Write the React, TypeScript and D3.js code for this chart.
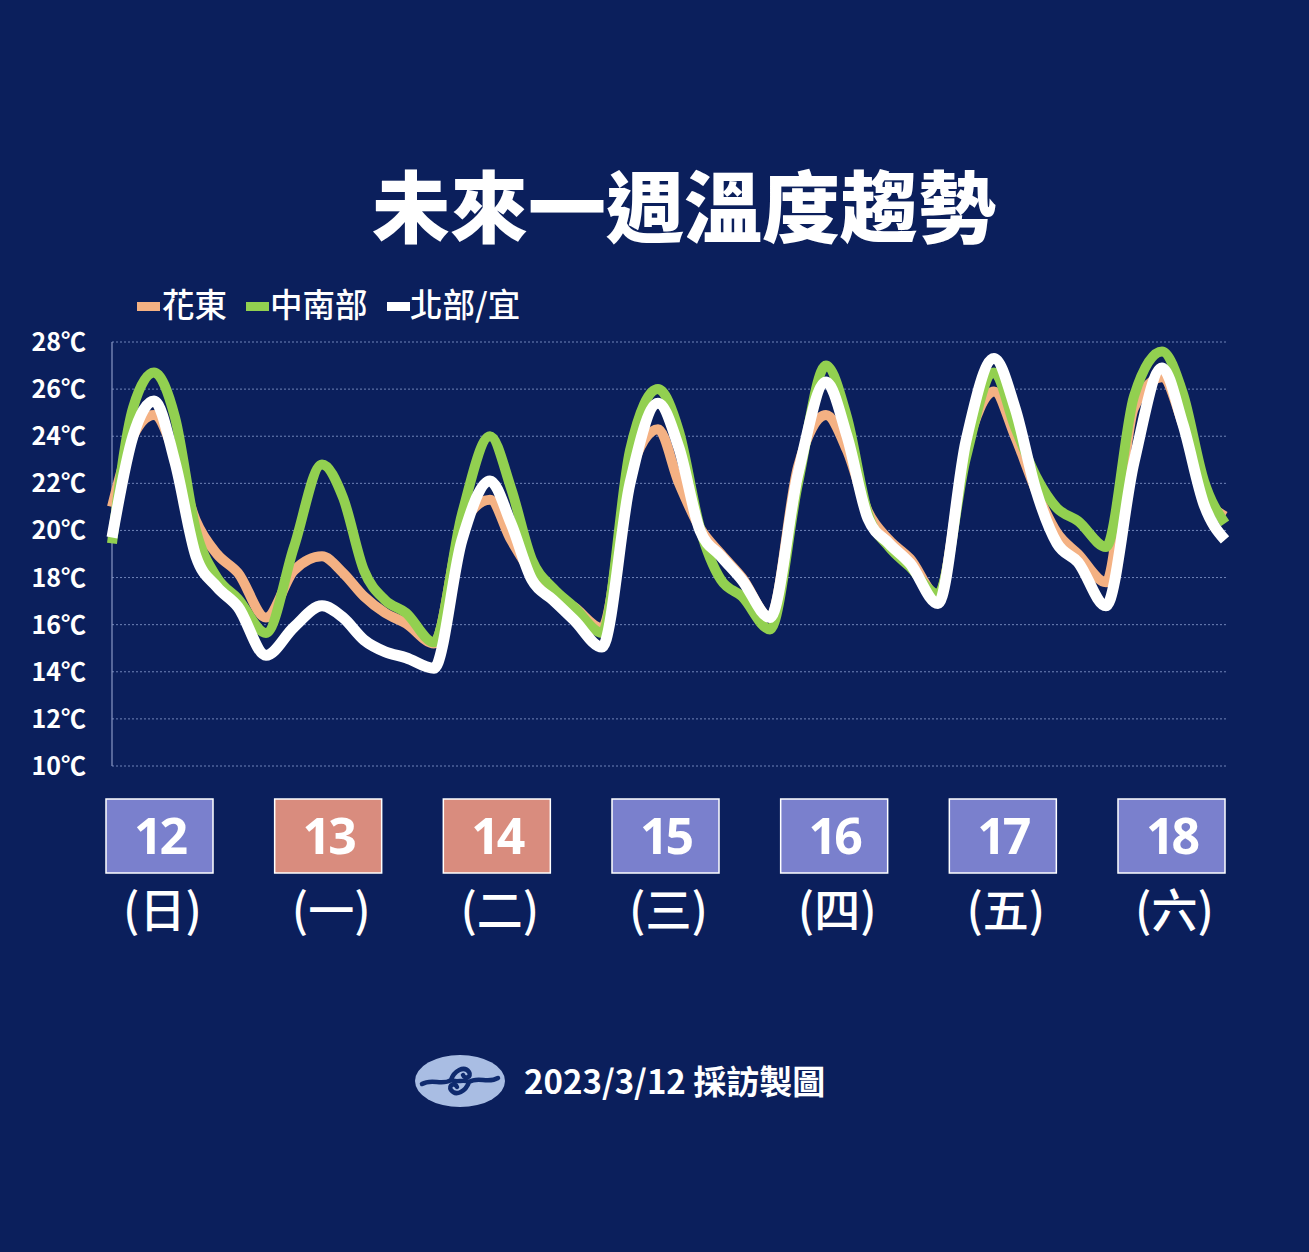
import React from "react";
import * as d3 from "d3";

// Hours since the first sample (about 08:00 on the 12th)
const hours = [0, 3, 6, 9, 12, 15, 18, 22, 26, 30, 33, 36, 39, 42, 46, 50, 54, 57, 60, 63, 66, 70, 74, 78, 81, 84, 87, 90, 94, 98, 102, 105, 108, 111, 114, 118, 122, 126, 129, 132, 135, 138, 142, 146, 150, 153, 156, 159];

const hualienTaitung = [21.0, 24.0, 24.9, 23.2, 20.4, 19.0, 18.2, 16.3, 18.3, 18.9, 18.2, 17.2, 16.5, 16.05, 15.2, 20.2, 21.3, 19.6, 18.2, 17.3, 16.75, 15.85, 22.4, 24.3, 22.0, 20.1, 19.0, 18.0, 16.3, 22.7, 24.9, 23.4, 20.8, 19.6, 18.8, 17.2, 23.4, 25.9, 24.0, 21.7, 19.9, 19.0, 17.8, 25.2, 26.5, 24.5, 21.6, 20.6];

const centralSouth = [19.45, 25.2, 26.7, 24.8, 20.0, 18.0, 17.1, 15.65, 19.3, 22.8, 21.4, 18.3, 17.05, 16.5, 15.25, 20.7, 24.0, 21.8, 18.75, 17.55, 16.75, 15.65, 23.4, 26.0, 24.2, 20.1, 17.9, 17.2, 15.8, 22.0, 27.0, 24.8, 20.7, 19.3, 18.45, 17.3, 23.1, 26.7, 24.4, 22.3, 20.95, 20.4, 19.3, 25.7, 27.6, 25.8, 22.1, 20.3];

const northYilan = [19.7, 24.0, 25.5, 22.9, 18.9, 17.6, 16.75, 14.7, 15.9, 16.8, 16.3, 15.35, 14.85, 14.6, 14.15, 19.6, 22.1, 20.3, 17.9, 17.05, 16.2, 15.05, 22.0, 25.4, 23.5, 20.0, 18.9, 17.9, 16.3, 22.4, 26.3, 24.0, 20.5, 19.45, 18.6, 16.9, 23.8, 27.3, 25.2, 21.7, 19.45, 18.65, 16.8, 22.9, 26.9, 24.5, 21.1, 19.6];

const seriesNames = ["花東", "中南部", "北部/宜"];
const seriesColors = ["#f4b183", "#92d050", "#ffffff"];
const seriesValues = [hualienTaitung, centralSouth, northYilan];

const yTicks = [10, 12, 14, 16, 18, 20, 22, 24, 26, 28];
const dayNumbers = ["12", "13", "14", "15", "16", "17", "18"];
const weekdays = ["(日)", "(一)", "(二)", "(三)", "(四)", "(五)", "(六)"];
const holidayFlags = [false, true, true, false, false, false, false];

const W = 1309;
const H = 1252;
const BG = "#0b1f5c";
const CJK = "'Noto Sans CJK TC', 'Noto Sans', sans-serif";

export default function App() {
  const x = d3.scaleLinear().domain([0, 159]).range([112, 1225]);
  const y = d3.scaleLinear().domain([10, 28]).range([766, 342]);
  const dayX = d3.scalePoint<string>().domain(dayNumbers).range([159.5, 1171.5]);

  const line = d3
    .line<number>()
    .x((_, i) => x(hours[i]))
    .y((d) => y(d))
    .curve(d3.curveMonotoneX);

  const legendItems = [
    { sx: 137, tx: 162 },
    { sx: 246, tx: 270 },
    { sx: 387, tx: 410 },
  ];

  return (
    <div style={{ position: "absolute", left: 0, top: 0, width: W, height: H }}>
      <svg width={W} height={H} style={{ display: "block" }}>
        <rect width={W} height={H} fill={BG} />

        <text
          x={684}
          y={237}
          textAnchor="middle"
          fontFamily={CJK}
          fontWeight={900}
          fontSize={78}
          fill="#ffffff"
        >
          未來一週溫度趨勢
        </text>

        {seriesNames.map((name, i) => (
          <g key={name}>
            <rect x={legendItems[i].sx} y={302} width={23} height={9} fill={seriesColors[i]} />
            <text
              x={legendItems[i].tx}
              y={317}
              fontFamily={CJK}
              fontWeight={500}
              fontSize={32.5}
              fill="#ffffff"
            >
              {name}
            </text>
          </g>
        ))}

        {/* grid */}
        {yTicks.map((t) => (
          <line
            key={t}
            x1={112}
            x2={1226}
            y1={y(t)}
            y2={y(t)}
            stroke="#7084b8"
            strokeWidth={1}
            strokeDasharray="2,2"
          />
        ))}
        <line x1={112} x2={112} y1={342} y2={766} stroke="#8a98c4" strokeWidth={1.2} />

        {yTicks.map((t) => (
          <text
            key={"l" + t}
            x={86}
            y={y(t)}
            dy="0.36em"
            textAnchor="end"
            fontFamily={CJK}
            fontWeight={700}
            fontSize={25}
            fill="#ffffff"
          >
            {t}℃
          </text>
        ))}

        {seriesValues.map((vals, i) => (
          <path
            key={seriesNames[i]}
            d={line(vals) || ""}
            fill="none"
            stroke={seriesColors[i]}
            strokeWidth={i === 2 ? 11 : 10}
            strokeLinejoin="round"
            strokeLinecap="butt"
          />
        ))}

        {dayNumbers.map((d, i) => {
          const cx = dayX(d) as number;
          return (
            <g key={d}>
              <rect
                x={cx - 53.5}
                y={799}
                width={107}
                height={74}
                fill={holidayFlags[i] ? "#d98c7e" : "#7a80cd"}
                stroke="#ffffff"
                strokeWidth={1.5}
              />
              <text
                x={cx}
                y={854}
                textAnchor="middle"
                fontFamily="'Noto Sans', sans-serif"
                fontWeight={700}
                fontSize={50}
                letterSpacing={-3}
                fill="#ffffff"
              >
                {d}
              </text>
              <text
                x={cx + 3}
                y={927}
                textAnchor="middle"
                fontFamily={CJK}
                fontWeight={500}
                fontSize={46}
                fill="#ffffff"
              >
                {weekdays[i]}
              </text>
            </g>
          );
        })}

        {/* logo */}
        <g transform="translate(460,1081)">
          <ellipse cx={0} cy={0} rx={45} ry={26} fill="#a9bde3" />
          <path
            d="M-38,3 C-28,-3 -18,5 -9,-1 C-6,-10 4,-16 9,-9 C12,-4 5,-1 3,-6"
            fill="none"
            stroke="#0f2a6e"
            strokeWidth={4.5}
            strokeLinecap="round"
          />
          <path
            d="M38,-3 C28,3 18,-5 9,1 C6,10 -4,16 -9,9 C-12,4 -5,1 -3,6"
            fill="none"
            stroke="#0f2a6e"
            strokeWidth={4.5}
            strokeLinecap="round"
          />
          <path d="M-9,-1 C-4,2 4,-2 9,1" fill="none" stroke="#0f2a6e" strokeWidth={4.5} />
        </g>
        <text
          x={524}
          y={1094}
          fontFamily={CJK}
          fontWeight={700}
          fontSize={33}
          fill="#ffffff"
        >
          2023/3/12 採訪製圖
        </text>
      </svg>
    </div>
  );
}
